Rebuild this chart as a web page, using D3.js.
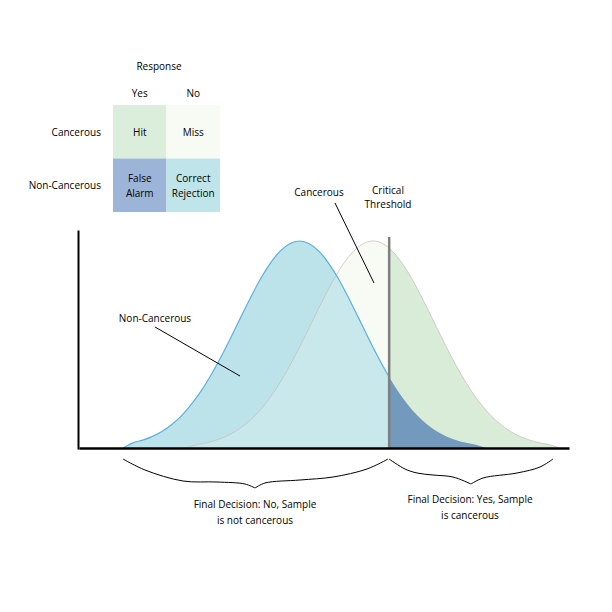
<!DOCTYPE html>
<html><head><meta charset="utf-8">
<script src="https://cdn.jsdelivr.net/npm/d3@7/dist/d3.min.js"></script>
<style>body{margin:0;background:#fff}svg{display:block}text{font-family:"Open Sans",sans-serif;fill:#000}</style>
</head><body><svg id="c" width="612" height="612"></svg>
<script>
// ---- data ----
const responseCols = ["Yes", "No"];
const truthRows = ["Cancerous", "Non-Cancerous"];
const cellLabels = [["Hit"], ["Miss"], ["False", "Alarm"], ["Correct", "Rejection"]];
const cellColors = ["#dbeedc", "#f8fbf4", "#9db4d9", "#bfe5ea"];

const nonCancerousX = [9,11,13,15,17,19,21,23,25,27,29,31,33,35,37,39,41,43,45,47,49,51,53,55,57,59,61,63,65,67,69,71,73,75,77,79,81,83];
const nonCancerousY = [0,0.025,0.038,0.056,0.081,0.115,0.158,0.213,0.278,0.355,0.441,0.534,0.631,0.726,0.815,0.891,0.950,0.987,1,0.987,0.950,0.891,0.815,0.726,0.631,0.534,0.441,0.355,0.278,0.213,0.158,0.115,0.081,0.056,0.038,0.025,0.016,0];
const cancerousX = [22,24,26,28,30,32,34,36,38,40,42,44,46,48,50,52,54,56,58,60,62,64,66,68,70,72,74,76,78,80,82,84,86,88,90,92,94,96,98];
const cancerousY = [0,0.016,0.025,0.038,0.056,0.081,0.115,0.158,0.213,0.278,0.355,0.441,0.534,0.631,0.726,0.815,0.891,0.950,0.987,1,0.987,0.950,0.891,0.815,0.726,0.631,0.534,0.441,0.355,0.278,0.213,0.158,0.115,0.081,0.056,0.038,0.025,0.016,0];
const criticalThreshold = 63.3;
const decisionLabels = [["Final Decision: No, Sample", "is not cancerous"], ["Final Decision: Yes, Sample", "is cancerous"]];

// ---- chart ----
const svg = d3.select("#c");
const x = d3.scaleLinear().domain([0, 100]).range([79, 569]);
const y = d3.scaleLinear().domain([0, 1]).range([448, 241]);
const tx = x(criticalThreshold);

const blue = nonCancerousX.map((v, i) => [v, nonCancerousY[i]]);
const green = cancerousX.map((v, i) => [v, cancerousY[i]]);

const area = d3.area().x(d => x(d[0])).y0(y(0)).y1(d => y(d[1])).curve(d3.curveMonotoneX);
const line = d3.line().x(d => x(d[0])).y(d => y(d[1])).curve(d3.curveMonotoneX);

const defs = svg.append("defs");
defs.append("clipPath").attr("id", "left").append("rect").attr("x", 0).attr("y", 0).attr("width", tx).attr("height", 612);
defs.append("clipPath").attr("id", "right").append("rect").attr("x", tx).attr("y", 0).attr("width", 612 - tx).attr("height", 612);

svg.append("path").attr("d", area(green)).attr("fill", "#f8fbf4").attr("clip-path", "url(#left)");
svg.append("path").attr("d", area(green)).attr("fill", "#d9ecd7").attr("clip-path", "url(#right)");
svg.append("path").attr("d", area(blue)).attr("fill", "#bde3ea").attr("clip-path", "url(#left)");
svg.append("path").attr("d", area(green)).attr("fill", "#f8fbf4").attr("fill-opacity", 0.22).attr("clip-path", "url(#left)");
svg.append("path").attr("d", area(blue)).attr("fill", "#7399bc").attr("clip-path", "url(#right)");

svg.append("path").attr("d", line(green)).attr("fill", "none").attr("stroke", "#c9bdb6").attr("stroke-opacity", 0.75).attr("stroke-width", 1);
svg.append("path").attr("d", line(blue)).attr("fill", "none").attr("stroke", "#5aafe2").attr("stroke-width", 1.2).attr("clip-path", "url(#left)");

// threshold
svg.append("line").attr("x1", tx).attr("x2", tx).attr("y1", 237).attr("y2", y(0)).attr("stroke", "#7f7f7f").attr("stroke-width", 2.5);

// axes
const xAxis = svg.append("g").attr("transform", `translate(0,${y(0)})`)
  .call(d3.axisBottom(x).tickValues([]).tickSizeOuter(0));
xAxis.select(".domain").attr("stroke", "#000").attr("stroke-width", 2.5);
const yAxis = svg.append("g").attr("transform", `translate(${x(0) - 1},0)`)
  .call(d3.axisLeft(d3.scaleLinear().domain([0, 1]).range([449, 230])).tickValues([]).tickSizeOuter(0));
yAxis.select(".domain").attr("stroke", "#000").attr("stroke-width", 2);

// annotations
const fs = 10;
svg.append("text").attr("x", 155).attr("y", 322).attr("text-anchor", "middle").attr("font-size", fs).text("Non-Cancerous");
svg.append("line").attr("x1", 155).attr("y1", 327).attr("x2", 240).attr("y2", 376).attr("stroke", "#000").attr("stroke-width", 1);
svg.append("text").attr("x", 319).attr("y", 196).attr("text-anchor", "middle").attr("font-size", fs).text("Cancerous");
svg.append("line").attr("x1", 335).attr("y1", 203).attr("x2", 374).attr("y2", 283).attr("stroke", "#000").attr("stroke-width", 1);
svg.append("text").attr("x", 388).attr("y", 194).attr("text-anchor", "middle").attr("font-size", fs).text("Critical");
svg.append("text").attr("x", 388).attr("y", 208).attr("text-anchor", "middle").attr("font-size", fs).text("Threshold");

// braces (each half drawn separately so the tips stay sharp)
const braceLine = d3.line().curve(d3.curveCatmullRom);
const braces = [
  [[123, 459], [145, 470], [183, 481], [217, 482], [245, 484], [255, 488]],
  [[255, 488], [265, 483], [300, 480], [333, 477], [367, 469], [388, 459]],
  [[389, 459], [405, 469], [417, 473], [433, 475], [453, 477], [471, 484]],
  [[471, 484], [483, 478], [517, 473], [540, 467], [553, 459]]
];
braces.forEach(b => svg.append("path").attr("d", braceLine(b)).attr("fill", "none").attr("stroke", "#000").attr("stroke-width", 1));
const decX = [255, 470], decY = [508, 503];
decisionLabels.forEach((lines, i) => {
  lines.forEach((t, j) => svg.append("text").attr("x", decX[i]).attr("y", decY[i] + j * 16).attr("text-anchor", "middle").attr("font-size", fs).text(t));
});

// table
const col = d3.scaleBand().domain(responseCols).range([113, 220]);
const row = d3.scaleBand().domain(truthRows).range([105, 212]);
svg.append("text").attr("x", 159).attr("y", 70).attr("text-anchor", "middle").attr("font-size", fs).text("Response");
responseCols.forEach(c => svg.append("text").attr("x", col(c) + col.bandwidth() / 2).attr("y", 97).attr("text-anchor", "middle").attr("font-size", fs).text(c));
truthRows.forEach(r => svg.append("text").attr("x", 101).attr("y", row(r) + row.bandwidth() / 2 + 4).attr("text-anchor", "end").attr("font-size", fs).text(r));
truthRows.forEach((r, ri) => responseCols.forEach((c, ci) => {
  const k = ri * 2 + ci;
  svg.append("rect").attr("x", col(c)).attr("y", row(r)).attr("width", col.bandwidth()).attr("height", row.bandwidth()).attr("fill", cellColors[k]);
  const ls = cellLabels[k];
  ls.forEach((t, j) => svg.append("text").attr("x", col(c) + col.bandwidth() / 2)
    .attr("y", row(r) + row.bandwidth() / 2 + 4 + (j - (ls.length - 1) / 2) * 15)
    .attr("text-anchor", "middle").attr("font-size", fs).text(t));
}));
</script></body></html>
